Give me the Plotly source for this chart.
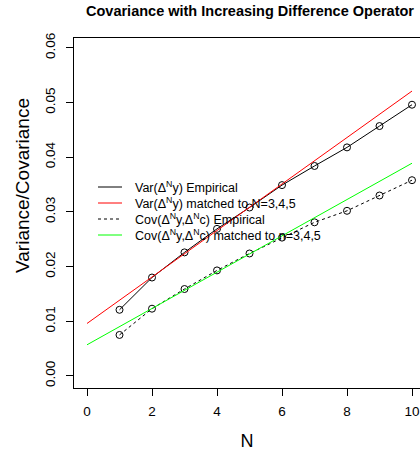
import plotly.graph_objects as go

N = [1, 2, 3, 4, 5, 6, 7, 8, 9, 10]
var_emp = [0.0121, 0.0180, 0.0226, 0.0269, 0.0308, 0.0349, 0.0384, 0.0418, 0.0457, 0.0496]
cov_emp = [0.0075, 0.0123, 0.0159, 0.0193, 0.0224, 0.0253, 0.0281, 0.0302, 0.0330, 0.0358]
fit_x = [0, 10]
var_fit = [0.0096, 0.0521]
cov_fit = [0.0057, 0.0389]

x_ticks = [0, 2, 4, 6, 8, 10]
y_ticks = [0.00, 0.01, 0.02, 0.03, 0.04, 0.05, 0.06]
y_tick_labels = ["0.00", "0.01", "0.02", "0.03", "0.04", "0.05", "0.06"]

legend_labels = [
    "Var(Δ<sup>N</sup>y) Empirical",
    "Var(Δ<sup>N</sup>y) matched to N=3,4,5",
    "Cov(Δ<sup>N</sup>y,Δ<sup>N</sup>c) Empirical",
    "Cov(Δ<sup>N</sup>y,Δ<sup>N</sup>c) matched to n=3,4,5",
]

FONT = "Liberation Sans, Arial, sans-serif"
styles = [
    dict(color="black", width=1),
    dict(color="red", width=1),
    dict(color="black", width=1, dash="3px,3px"),
    dict(color="#00ff00", width=1),
]
marker = dict(symbol="circle-open", size=7, color="black", line=dict(width=1))

fig = go.Figure()
fig.add_trace(go.Scatter(x=N, y=var_emp, mode="lines+markers", name=legend_labels[0],
                         line=styles[0], marker=marker, showlegend=False))
fig.add_trace(go.Scatter(x=fit_x, y=var_fit, mode="lines", name=legend_labels[1],
                         line=styles[1], showlegend=False))
fig.add_trace(go.Scatter(x=N, y=cov_emp, mode="lines+markers", name=legend_labels[2],
                         line=styles[2], marker=marker, showlegend=False))
fig.add_trace(go.Scatter(x=fit_x, y=cov_fit, mode="lines", name=legend_labels[3],
                         line=styles[3], showlegend=False))

# custom legend (R-style, no box, lines only)
L, T, PW, PH = 74, 38, 346, 350
row_px = [187, 203, 219, 235]
for label, st, py in zip(legend_labels, styles, row_px):
    yp = (T + PH - py) / PH
    fig.add_shape(type="line", xref="paper", yref="paper",
                  x0=(98 - L) / PW, x1=(122 - L) / PW, y0=yp, y1=yp,
                  line=st)
    fig.add_annotation(xref="paper", yref="paper", x=(133 - L) / PW, y=yp,
                       xanchor="left", yanchor="middle", text=label, showarrow=False,
                       font=dict(size=12.5, family=FONT, color="black"))

# y-axis title
fig.add_annotation(xref="paper", yref="paper", x=(22 - L) / PW, y=(T + PH - 186) / PH,
                   xanchor="center", yanchor="middle", textangle=-90,
                   text="Variance/Covariance", showarrow=False,
                   font=dict(size=19, family=FONT, color="black"))

fig.update_layout(
    width=420, height=455,
    margin=dict(l=74, r=0, t=38, b=67),
    paper_bgcolor="white", plot_bgcolor="white",
    font=dict(family=FONT, color="black", size=13),
    title=dict(text="<b>Covariance with Increasing Difference Operator</b>",
               x=(250 - L) / PW, xref="paper", xanchor="center",
               y=1 - 11 / 455, yanchor="middle",
               font=dict(size=14.5, family=FONT)),
    showlegend=False,
    xaxis=dict(range=[-0.4, 10.246], tickvals=x_ticks, ticks="outside", ticklen=7,
               tickcolor="black", showline=True, linecolor="black", linewidth=1,
               mirror=True, showgrid=False, zeroline=False, automargin=False,
               tickfont=dict(size=13.5), ticklabelstandoff=4,
               title=dict(text="N", font=dict(size=18), standoff=16)),
    yaxis=dict(range=[-0.0022, 0.0618], tickvals=y_ticks, ticktext=y_tick_labels,
               ticks="outside", ticklen=7, tickcolor="black", tickangle=-90,
               showline=True, linecolor="black", linewidth=1, mirror=False,
               showgrid=False, zeroline=False, automargin=False,
               tickfont=dict(size=13.5), ticklabelstandoff=6),
)

fig.write_html("out.html", config={"displayModeBar": False},
               post_script="document.body.style.margin='0';document.body.style.overflow='hidden';")
